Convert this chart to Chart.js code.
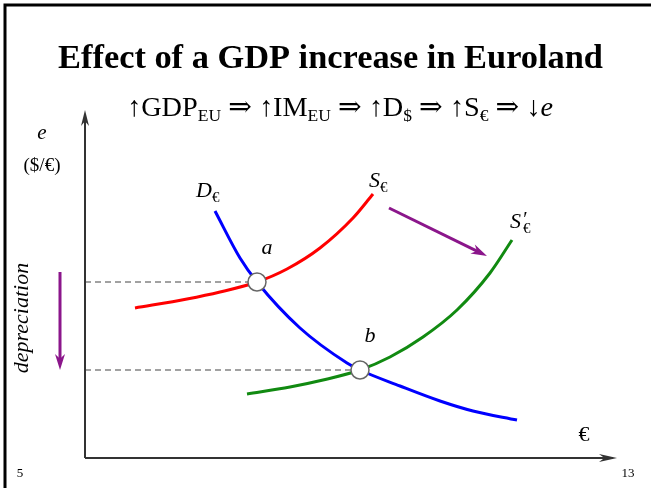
<!DOCTYPE html>
<html><head><meta charset="utf-8">
<script src="https://cdn.jsdelivr.net/npm/chart.js@4/dist/chart.umd.min.js"></script>
<style>html,body{margin:0;padding:0;background:#fff;overflow:hidden}canvas{display:block}</style>
</head><body>
<canvas id="c" width="651" height="488"></canvas>
<script>
// Curve data (x = quantity of €, y = exchange rate e)
const demandX  = [130, 155, 172, 215, 262, 275, 315, 355, 388, 432];
const demandY  = [247, 200, 176, 130, 95, 88, 72, 57, 47, 38];
const supplyX  = [50, 102, 135, 172, 202, 235, 268, 288];
const supplyY  = [150, 159, 166, 176, 189, 210, 240, 264];
const supply2X = [162, 205, 238, 275, 305, 338, 372, 405, 427];
const supply2Y = [64, 71, 78, 88, 101, 121, 148, 185, 218];
const equilibriumX = [172, 275];
const equilibriumY = [176, 88];
const equilibriumLabels = ['a', 'b'];
const titleText = 'Effect of a GDP increase in Euroland';

const pts = (xs, ys) => xs.map((x, i) => ({x, y: ys[i]}));
const SERIF = '"Liberation Serif","DejaVu Serif",serif';

const dashSets = equilibriumX.map((x, i) => ({
  data: [{x: 0, y: equilibriumY[i]}, {x, y: equilibriumY[i]}],
  showLine: true, borderColor: '#444', borderWidth: 1.2, borderDash: [6, 4],
  pointRadius: 0, fill: false, order: 3
}));

const curve = (xs, ys, color) => ({
  data: pts(xs, ys), showLine: true, borderColor: color, borderWidth: 3,
  cubicInterpolationMode: 'monotone', pointRadius: 0, fill: false, order: 2
});

function fitFont(ctx, text, weight, style, target) {
  let size = 30;
  ctx.font = `${style} ${weight} ${size}px ${SERIF}`;
  const w = ctx.measureText(text).width;
  return size * target / w;
}

const deco = {
  id: 'deco',
  beforeDraw(chart) {
    const ctx = chart.ctx;
    ctx.save();
    ctx.fillStyle = '#fff';
    ctx.fillRect(0, 0, chart.width, chart.height);
    ctx.restore();
  },
  afterDraw(chart) {
    const ctx = chart.ctx, X = chart.scales.x, Y = chart.scales.y;
    const px = v => X.getPixelForValue(v), py = v => Y.getPixelForValue(v);
    ctx.save();
    // slide frame
    ctx.strokeStyle = '#000'; ctx.lineWidth = 3;
    ctx.beginPath(); ctx.moveTo(5, 490); ctx.lineTo(5, 5); ctx.lineTo(660, 5); ctx.stroke();

    // axes with arrowheads
    const ox = px(0), oy = py(0), top = py(Y.max), right = px(X.max);
    ctx.strokeStyle = '#333'; ctx.fillStyle = '#333'; ctx.lineWidth = 2;
    ctx.beginPath(); ctx.moveTo(ox, oy); ctx.lineTo(ox, top + 4); ctx.stroke();
    ctx.beginPath(); ctx.moveTo(ox, oy); ctx.lineTo(right - 4, oy); ctx.stroke();
    function head(x, y, ang, len, wid) {
      ctx.save(); ctx.translate(x, y); ctx.rotate(ang);
      ctx.beginPath(); ctx.moveTo(0, 0); ctx.lineTo(-len, -wid); ctx.lineTo(-len * 0.7, 0); ctx.lineTo(-len, wid); ctx.closePath(); ctx.fill();
      ctx.restore();
    }
    head(ox, top - 2, -Math.PI / 2, 16, 4);
    head(right, oy, 0, 18, 4);

    // purple arrows
    const purple = '#8b168b';
    ctx.strokeStyle = purple; ctx.fillStyle = purple; ctx.lineWidth = 3;
    function arrow(x1, y1, x2, y2) {
      const ang = Math.atan2(y2 - y1, x2 - x1);
      ctx.beginPath(); ctx.moveTo(x1, y1);
      ctx.lineTo(x2 - 10 * Math.cos(ang), y2 - 10 * Math.sin(ang)); ctx.stroke();
      head(x2, y2, ang, 16, 5);
    }
    arrow(px(304), py(250), px(402), py(202));
    arrow(60, py(186), 60, py(88));

    // texts
    ctx.fillStyle = '#000';
    ctx.textBaseline = 'alphabetic';
    // title
    let fs = fitFont(ctx, titleText, 'bold', 'normal', 545);
    ctx.font = `bold ${fs}px ${SERIF}`;
    ctx.textAlign = 'center';
    ctx.fillText(titleText, 330.5, 68);

    // formula
    const parts = [
      ['↑GDP', 0], ['EU', 1], [' ⇒ ↑IM', 0], ['EU', 1], [' ⇒ ↑D', 0], ['$', 1],
      [' ⇒ ↑S', 0], ['€', 1], [' ⇒ ↓', 0], ['e', 2]
    ];
    const measure = (base) => {
      let w = 0;
      parts.forEach(([t, k]) => {
        const s = k === 1 ? base * 0.62 : base;
        ctx.font = `${k === 2 ? 'italic ' : ''}${s}px ${SERIF}`;
        w += ctx.measureText(t).width;
      });
      return w;
    };
    let base = 22;
    base = base * 426 / measure(base);
    let cx = 340 - measure(base) / 2;
    ctx.textAlign = 'left';
    parts.forEach(([t, k]) => {
      const s = k === 1 ? base * 0.62 : base;
      ctx.font = `${k === 2 ? 'italic ' : ''}${s}px ${SERIF}`;
      ctx.fillText(t, cx, k === 1 ? 121 : 116);
      cx += ctx.measureText(t).width;
    });

    // y axis label
    ctx.textAlign = 'center';
    ctx.font = `italic 21px ${SERIF}`;
    ctx.fillText('e', 42, 139);
    ctx.font = `19px ${SERIF}`;
    ctx.fillText('($/€)', 42, 171);

    // depreciation
    ctx.save();
    ctx.translate(28, 318); ctx.rotate(-Math.PI / 2);
    ctx.font = `italic 22px ${SERIF}`;
    ctx.fillText('depreciation', 0, 0);
    ctx.restore();

    // curve labels
    function sublabel(main, sub, x, y, prime) {
      ctx.textAlign = 'left';
      ctx.font = `italic 22px ${SERIF}`;
      ctx.fillText(main, x, y);
      let w = ctx.measureText(main).width;
      if (prime) { ctx.font = `italic 20px ${SERIF}`; ctx.fillText('′', x + w + 1, y - 2); }
      ctx.font = `15px ${SERIF}`;
      ctx.fillText(sub, x + w + (prime ? 2 : 0), y + 5);
    }
    sublabel('D', '€', px(111), py(261));
    sublabel('S', '€', px(284), py(271));
    sublabel('S', '€', px(425), py(230), true);

    ctx.textAlign = 'center';
    ctx.font = `italic 22px ${SERIF}`;
    equilibriumLabels.forEach((l, i) => {
      ctx.fillText(l, px(equilibriumX[i] + 10), py(equilibriumY[i] + 28));
    });
    ctx.font = `22px ${SERIF}`;
    ctx.fillText('€', px(499), py(17));

    // page numbers
    ctx.font = `13px ${SERIF}`;
    ctx.fillText('13', 628, 477);
    ctx.save();
    ctx.beginPath(); ctx.rect(0, 469, 60, 20); ctx.clip();
    ctx.fillText('5', 20, 477);
    ctx.restore();

    ctx.restore();
  }
};

new Chart(document.getElementById('c'), {
  type: 'scatter',
  data: {
    datasets: [
      {
        data: pts(equilibriumX, equilibriumY), showLine: false, order: 1,
        pointRadius: 9, pointBackgroundColor: '#fff', pointBorderColor: '#666', pointBorderWidth: 1.5,
        backgroundColor: '#fff', borderColor: '#666'
      },
      curve(demandX, demandY, '#0000ff'),
      curve(supplyX, supplyY, '#ff0000'),
      curve(supply2X, supply2Y, '#118a11'),
      ...dashSets
    ]
  },
  options: {
    responsive: false, animation: false, devicePixelRatio: 1,
    layout: {padding: {left: 85, right: 34, top: 112, bottom: 30}},
    scales: {
      x: {type: 'linear', min: 0, max: 532, display: false},
      y: {type: 'linear', min: 0, max: 346, display: false}
    },
    plugins: {legend: {display: false}, tooltip: {enabled: false}},
    events: []
  },
  plugins: [deco]
});
</script>
</body></html>
